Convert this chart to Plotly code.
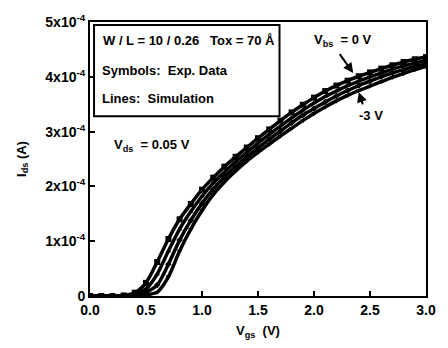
import plotly.graph_objects as go

vgs = [0.0, 0.1, 0.2, 0.3, 0.4, 0.5, 0.6, 0.7, 0.8, 0.9, 1.0, 1.1, 1.2, 1.3, 1.4, 1.5,
       1.6, 1.7, 1.8, 1.9, 2.0, 2.1, 2.2, 2.3, 2.4, 2.5, 2.6, 2.7, 2.8, 2.9, 3.0]

# drain current in units of 1e-4 A
ids_0v = [0, 0, 0, 0.01, 0.06, 0.24, 0.62, 1.04, 1.4, 1.68, 1.94, 2.16, 2.36, 2.54, 2.71, 2.88,
          3.04, 3.2, 3.35, 3.49, 3.62, 3.74, 3.84, 3.93, 4.01, 4.08, 4.15, 4.21, 4.27, 4.32, 4.36]
ids_m1v = [0, 0, 0, 0.005, 0.03, 0.13, 0.4, 0.82, 1.22, 1.54, 1.82, 2.06, 2.26, 2.45, 2.62, 2.79,
           2.95, 3.1, 3.25, 3.39, 3.52, 3.64, 3.74, 3.84, 3.92, 4.0, 4.07, 4.14, 4.2, 4.25, 4.3]
ids_m2v = [0, 0, 0, 0, 0.015, 0.07, 0.2, 0.58, 1.02, 1.38, 1.69, 1.95, 2.17, 2.36, 2.54, 2.7,
           2.86, 3.01, 3.16, 3.3, 3.42, 3.54, 3.65, 3.75, 3.84, 3.92, 4.0, 4.07, 4.13, 4.19, 4.24]
ids_m3v = [0, 0, 0, 0, 0.005, 0.02, 0.07, 0.35, 0.82, 1.22, 1.56, 1.85, 2.08, 2.28, 2.46, 2.62,
           2.77, 2.92, 3.06, 3.2, 3.33, 3.45, 3.56, 3.66, 3.75, 3.83, 3.91, 3.99, 4.06, 4.13, 4.19]

series = [("0 V", ids_0v, "square", 6), ("-1 V", ids_m1v, "triangle-up", 5),
          ("-2 V", ids_m2v, "diamond", 5), ("-3 V", ids_m3v, "triangle-down", 5)]

y_ticks = [0, 1, 2, 3, 4, 5]
y_ticktext = ["0", "1x10<sup>-4</sup>", "2x10<sup>-4</sup>", "3x10<sup>-4</sup>",
              "4x10<sup>-4</sup>", "5x10<sup>-4</sup>"]
x_ticks = [0.0, 0.5, 1.0, 1.5, 2.0, 2.5, 3.0]
x_ticktext = ["0.0", "0.5", "1.0", "1.5", "2.0", "2.5", "3.0"]

FONT = "Liberation Sans, Arial, sans-serif"
TICKFONT = dict(family=FONT, size=14, color="black")

fig = go.Figure()
for name, ys, sym, msize in series:
    fig.add_trace(go.Scatter(x=vgs, y=ys, mode="lines", name=name,
                             line=dict(color="black", width=3.5, shape="spline", smoothing=0.7),
                             showlegend=False))
    fig.add_trace(go.Scatter(x=vgs, y=ys, mode="markers", name=name + " exp",
                             marker=dict(symbol=sym, size=msize, color="black"), showlegend=False))

fig.update_layout(
    width=448, height=348,
    margin=dict(l=90, r=14, t=13, b=50),
    paper_bgcolor="white", plot_bgcolor="white",
    font=dict(family=FONT, size=13, color="black"),
    xaxis=dict(range=[0, 3.0], tickvals=x_ticks, ticktext=["<b>%s</b>" % t for t in x_ticktext],
               ticks="inside", ticklen=5, tickwidth=2, tickcolor="black", showline=True,
               linewidth=2, linecolor="black", mirror=True, showgrid=False, zeroline=False,
               tickfont=TICKFONT,
               title=dict(text="<b>V<sub>gs</sub>  (V)</b>", standoff=9, font=dict(family=FONT, size=13))),
    yaxis=dict(range=[0, 5.0], tickvals=y_ticks, ticktext=["<b>%s</b>" % t for t in y_ticktext],
               ticks="inside", ticklen=5, tickwidth=2, tickcolor="black", showline=True,
               linewidth=2, linecolor="black", mirror=True, showgrid=False, zeroline=False,
               tickfont=TICKFONT,
               title=dict(text="<b>I<sub>ds</sub> (A)</b>", standoff=16, font=dict(family=FONT, size=13))),
)

fig.add_shape(type="rect", xref="paper", yref="paper", x0=0.012, x1=0.564, y0=0.656, y1=0.989,
              line=dict(color="black", width=2), fillcolor="white", layer="above")

def ann(text, x, y, size=13):
    fig.add_annotation(text="<b>%s</b>" % text, x=x, y=y, xref="x", yref="y", showarrow=False,
                       xanchor="left", yanchor="middle", font=dict(family=FONT, size=size, color="black"))

ann("W / L = 10 / 0.26   Tox = 70 Å", 0.095, 4.67)
ann("Symbols:  Exp. Data", 0.085, 4.12)
ann("Lines:  Simulation", 0.085, 3.61)
ann("V<sub>ds</sub>  = 0.05 V", 0.195, 2.75)
ann("V<sub>bs</sub>  = 0 V", 1.98, 4.67)
ann("-3 V", 2.38, 3.3)

fig.add_annotation(x=2.35, y=4.07, ax=2.22, ay=4.44, xref="x", yref="y", axref="x", ayref="y",
                   text="", showarrow=True, arrowhead=2, arrowsize=1, arrowwidth=2, arrowcolor="black")
fig.add_annotation(x=2.40, y=3.72, ax=2.44, ay=3.47, xref="x", yref="y", axref="x", ayref="y",
                   text="", showarrow=True, arrowhead=2, arrowsize=1, arrowwidth=2, arrowcolor="black")

fig.write_html("out.html")
